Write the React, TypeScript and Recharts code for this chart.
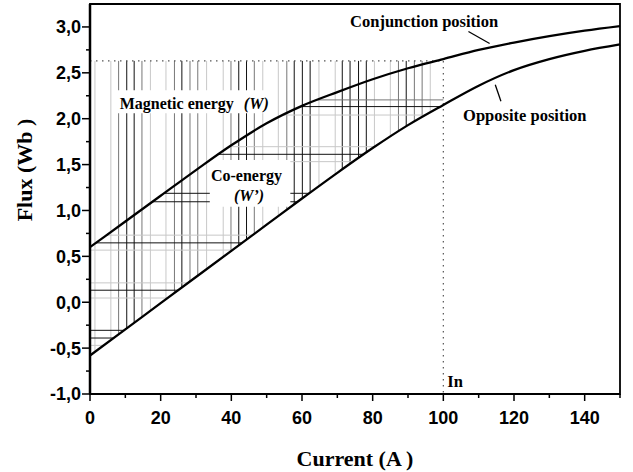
import { ComposedChart, Line, XAxis, YAxis, ReferenceLine, ReferenceArea, ReferenceDot } from "recharts";

// flux-current characteristics of the switched reluctance machine
const currentA = [0, 10, 20, 30, 40, 50, 60, 70, 80, 90, 100, 110, 120, 130, 140, 150];
const conjunctionFlux = [0.6, 0.88, 1.16, 1.44, 1.71, 1.95, 2.14, 2.29, 2.43, 2.55, 2.65, 2.75, 2.83, 2.9, 2.96, 3.01];
const oppositeFlux = [-0.58, -0.295, -0.01, 0.275, 0.56, 0.845, 1.13, 1.41, 1.68, 1.93, 2.15, 2.36, 2.53, 2.65, 2.74, 2.81];

// rated point (In, flux at In)
const ratedCurrent = 100;
const ratedFlux = 2.63;

// hatching of the energy areas: 0 light, 1 grey, 2 dark
const hatchCurrents = [
  1.4, 5.9, 8.1, 10.4, 12.5, 14.7, 17.1, 21.5, 23.9, 26.0, 28.3, 30.5,
  33.0, 37.7, 39.9, 42.1, 44.3, 46.5, 48.9, 53.3, 55.7, 57.8, 60.1, 62.3,
  64.8, 69.4, 71.4, 73.6, 76.0, 78.2, 80.5, 85.0, 87.3, 89.5, 91.8, 94.0, 96.3,
];
const hatchCurrentTone = [
  0, 0, 1, 2, 2, 1, 0, 0, 1, 2, 1, 1,
  0, 0, 1, 2, 2, 1, 0, 0, 1, 2, 2, 2,
  0, 0, 2, 2, 2, 2, 0, 0, 1, 2, 1, 1, 0,
];
const hatchFluxes = [2.205, 2.132, 2.04, 1.695, 1.612, 1.532, 1.187, 1.095, 0.731, 0.647, 0.568, 0.211, 0.131, 0.046, -0.306, -0.39, -0.47];
const hatchFluxTone = [1, 2, 0, 0, 2, 0, 2, 2, 0, 2, 0, 0, 2, 0, 2, 2, 0];

const xTicks = [0, 10, 20, 30, 40, 50, 60, 70, 80, 90, 100, 110, 120, 130, 140, 150];
const yTicks = [-1, -0.75, -0.5, -0.25, 0, 0.25, 0.5, 0.75, 1, 1.25, 1.5, 1.75, 2, 2.25, 2.5, 2.75, 3];

const toneColor = ["#c8c8c8", "#777", "#111"];

const conjunctionData = currentA.map((c, i) => ({ current: c, flux: conjunctionFlux[i] }));
const oppositeData = currentA.map((c, i) => ({ current: c, flux: oppositeFlux[i] }));

// flux on a curve for a given current
function fluxAt(curve: number[], c: number) {
  for (let i = 0; i < currentA.length - 1; i++) {
    if (c <= currentA[i + 1]) {
      const t = (c - currentA[i]) / (currentA[i + 1] - currentA[i]);
      return curve[i] + t * (curve[i + 1] - curve[i]);
    }
  }
  return curve[curve.length - 1];
}

// current on a curve for a given flux
function currentAt(curve: number[], f: number) {
  if (f <= curve[0]) return currentA[0];
  for (let i = 0; i < curve.length - 1; i++) {
    if (f <= curve[i + 1]) {
      const t = (f - curve[i]) / (curve[i + 1] - curve[i]);
      return currentA[i] + t * (currentA[i + 1] - currentA[i]);
    }
  }
  return currentA[currentA.length - 1];
}

const serif = "'Liberation Serif', 'Times New Roman', serif";
const sans = "'Liberation Sans', Arial, sans-serif";

function XTick({ x, y, payload }: any) {
  const major = payload.value % 20 === 0;
  return (
    <g>
      <line x1={x} x2={x} y1={y} y2={y + (major ? 7 : 4)} stroke="#000" strokeWidth={1.5} />
      {major && (
        <text x={x} y={y + 30} textAnchor="middle" fontFamily={sans} fontWeight="bold" fontSize={18} fill="#000">
          {payload.value}
        </text>
      )}
    </g>
  );
}

function YTick({ x, y, payload }: any) {
  const v = payload.value;
  const major = Math.abs(v * 2 - Math.round(v * 2)) < 1e-6;
  return (
    <g>
      <line x1={x} x2={x - (major ? 8 : 4)} y1={y} y2={y} stroke="#000" strokeWidth={1.5} />
      {major && (
        <text x={x - 9} y={y} dy="0.36em" textAnchor="end" fontFamily={sans} fontWeight="bold" fontSize={18} fill="#000">
          {v.toFixed(1).replace(".", ",")}
        </text>
      )}
    </g>
  );
}

function noteText(text: any, size: number, anchor: string = "start") {
  return (p: any) => (
    <text x={p.viewBox.x} y={p.viewBox.y} textAnchor={anchor} fontFamily={serif} fontWeight="bold" fontSize={size} fill="#000">
      {text}
    </text>
  );
}

export default function App() {
  return (
    <div style={{ position: "absolute", left: 0, top: 0, background: "#fff" }}>
      <ComposedChart width={633} height={472} margin={{ top: 4, right: 13, bottom: 0, left: 0 }}>
        <XAxis
          type="number"
          dataKey="current"
          domain={[0, 150]}
          ticks={xTicks}
          interval={0}
          tickSize={0}
          tickMargin={0}
          tickLine={false}
          tick={<XTick />}
          height={78}
          axisLine={{ stroke: "#000", strokeWidth: 2 }}
          label={(p: any) => (
            <text x={p.viewBox.x + p.viewBox.width / 2} y={p.viewBox.y + 72} textAnchor="middle" fontFamily={serif} fontWeight="bold" fontSize={22} fill="#000">
              Current (A )
            </text>
          )}
        />
        <YAxis
          type="number"
          domain={[-1, 3.25]}
          ticks={yTicks}
          interval={0}
          tickSize={0}
          tickMargin={0}
          tickLine={false}
          tick={<YTick />}
          width={90}
          axisLine={{ stroke: "#000", strokeWidth: 2.5 }}
          label={(p: any) => (
            <text
              x={p.viewBox.x + 32}
              y={p.viewBox.y + 166}
              transform={`rotate(-90 ${p.viewBox.x + 32} ${p.viewBox.y + 166})`}
              textAnchor="middle"
              fontFamily={serif}
              fontWeight="bold"
              fontSize={22}
              fill="#000"
            >
              Flux (Wb )
            </text>
          )}
        />

        <ReferenceArea x1={0} x2={150} y1={-1} y2={3.25} fill="none" stroke="#000" strokeWidth={1.8} zIndex={50} />

        {hatchCurrents.map((c, i) => (
          <ReferenceLine
            key={`v${i}`}
            segment={[{ x: c, y: ratedFlux }, { x: c, y: fluxAt(oppositeFlux, c) }]}
            stroke={toneColor[hatchCurrentTone[i]]}
            strokeWidth={1}
            zIndex={100}
          />
        ))}
        {hatchFluxes.map((f, i) => (
          <ReferenceLine
            key={`h${i}`}
            segment={[
              { x: currentAt(conjunctionFlux, f), y: f },
              { x: Math.min(ratedCurrent, currentAt(oppositeFlux, f)), y: f },
            ]}
            stroke={toneColor[hatchFluxTone[i]]}
            strokeWidth={1}
            zIndex={100}
          />
        ))}

        <ReferenceArea x1={7.5} x2={51.5} y1={2.06} y2={2.31} fill="#fff" fillOpacity={1} stroke="none" zIndex={150} />
        <ReferenceArea x1={33.9} x2={56.7} y1={1.04} y2={1.55} fill="#fff" fillOpacity={1} stroke="none" zIndex={150} />

        <ReferenceLine
          segment={[{ x: 0, y: ratedFlux }, { x: ratedCurrent, y: ratedFlux }]}
          stroke="#555"
          strokeWidth={1.2}
          strokeDasharray="1.5 4.5"
          zIndex={160}
        />
        <ReferenceLine
          segment={[{ x: ratedCurrent, y: ratedFlux }, { x: ratedCurrent, y: -1 }]}
          stroke="#555"
          strokeWidth={1.2}
          strokeDasharray="1.5 4.5"
          zIndex={160}
        />

        <Line data={conjunctionData} dataKey="flux" type="monotone" dot={false} stroke="#000" strokeWidth={2.3} isAnimationActive={false} zIndex={400} />
        <Line data={oppositeData} dataKey="flux" type="monotone" dot={false} stroke="#000" strokeWidth={2.3} isAnimationActive={false} zIndex={400} />

        <ReferenceLine segment={[{ x: 107.1, y: 2.95 }, { x: 113.1, y: 2.82 }]} stroke="#000" strokeWidth={1.3} zIndex={400} />
        <ReferenceLine segment={[{ x: 114.7, y: 2.37 }, { x: 116.3, y: 2.19 }]} stroke="#000" strokeWidth={1.3} zIndex={400} />

        <ReferenceDot x={73.6} y={3.0} r={0} fill="none" stroke="none" zIndex={2000} label={noteText("Conjunction position", 16.5)} />
        <ReferenceDot x={105.6} y={1.97} r={0} fill="none" stroke="none" zIndex={2000} label={noteText("Opposite position", 16.5)} />
        <ReferenceDot x={101.1} y={-0.92} r={0} fill="none" stroke="none" zIndex={2000} label={noteText("In", 16.5)} />
        <ReferenceDot
          x={8.4}
          y={2.11}
          r={0}
          fill="none"
          stroke="none"
          zIndex={2000}
          label={noteText(
            <>
              Magnetic energy{" "}
              <tspan fontStyle="italic" dx={6}>
                (W)
              </tspan>
            </>,
            16
          )}
        />
        <ReferenceDot x={44.3} y={1.32} r={0} fill="none" stroke="none" zIndex={2000} label={noteText("Co-energy", 16, "middle")} />
        <ReferenceDot
          x={45.0}
          y={1.106}
          r={0}
          fill="none"
          stroke="none"
          zIndex={2000}
          label={noteText(<tspan fontStyle="italic">(W’)</tspan>, 16, "middle")}
        />
      </ComposedChart>
    </div>
  );
}
